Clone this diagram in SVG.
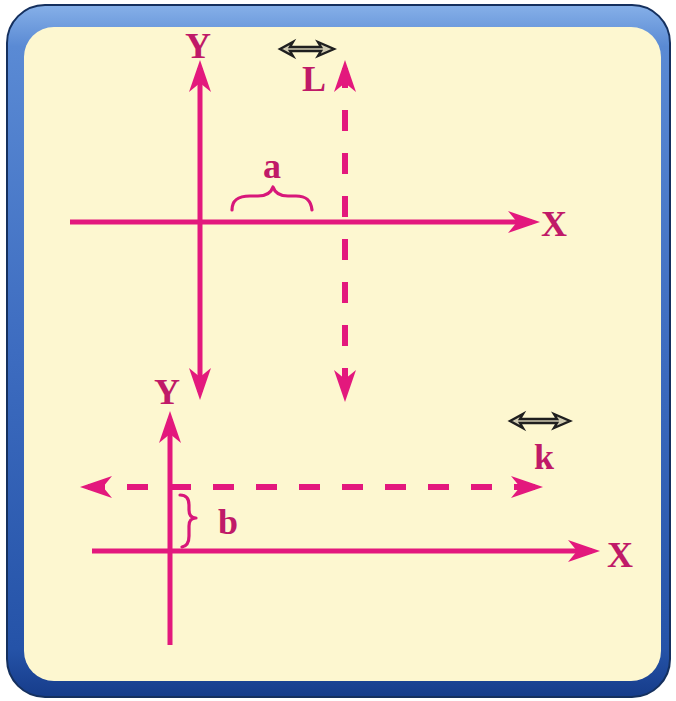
<svg xmlns="http://www.w3.org/2000/svg" width="676" height="701" viewBox="0 0 676 701">
<defs>
<linearGradient id="frameGrad" x1="0" y1="0" x2="0" y2="1">
<stop offset="0" stop-color="#86b0e8"/>
<stop offset="0.06" stop-color="#5a8ad4"/>
<stop offset="0.5" stop-color="#3d6cc0"/>
<stop offset="0.93" stop-color="#2553a8"/>
<stop offset="1" stop-color="#163c8a"/>
</linearGradient>
<marker id="ah" viewBox="0 0 32 22" refX="24" refY="11" markerWidth="32" markerHeight="22" markerUnits="userSpaceOnUse" orient="auto-start-reverse">
<path d="M0,0 L32,11 L0,22 L9,11 Z" fill="#e3187d"/>
</marker>
<style>
.ax{stroke:#e3187d;stroke-width:5;fill:none}
.dash{stroke:#e3187d;stroke-width:6;fill:none;stroke-dasharray:21 22}
.brace{stroke:#d8177a;stroke-width:3.2;fill:none;stroke-linecap:round;stroke-linejoin:round}
.lbl{font-family:"Liberation Serif","Times New Roman",serif;font-weight:bold;font-size:36px;fill:#c01a68;text-anchor:middle}
.dbl{stroke:#1f1f1f;stroke-width:2.4;fill:#cfcab0;stroke-linejoin:miter}
</style>
</defs>

<g id="frame">
<rect x="7" y="5" width="663" height="692" rx="38" ry="38" fill="url(#frameGrad)" stroke="#15305e" stroke-width="2"/>
<rect x="24" y="27" width="637" height="654" rx="30" ry="30" fill="#fdf7d0"/>
</g>

<g id="connectors">
<line id="top-y-axis" class="ax" x1="200" y1="68" x2="200" y2="392" marker-start="url(#ah)" marker-end="url(#ah)"/>
<line id="top-x-axis" class="ax" x1="70" y1="222" x2="532" y2="222" marker-end="url(#ah)"/>
<line id="top-dashed" class="dash" x1="345" y1="68" x2="345" y2="394" stroke-dashoffset="1" marker-start="url(#ah)" marker-end="url(#ah)"/>
<line id="bottom-y-axis" class="ax" x1="170" y1="645" x2="170" y2="419" marker-end="url(#ah)"/>
<line id="bottom-x-axis" class="ax" x1="92" y1="551" x2="592" y2="551" marker-end="url(#ah)"/>
<line id="bottom-dashed" class="dash" x1="88" y1="487" x2="535" y2="487" stroke-dashoffset="4" marker-start="url(#ah)" marker-end="url(#ah)"/>
</g>

<g id="top-labels">
<text class="lbl" x="198" y="58">Y</text>
<text class="lbl" x="554" y="236">X</text>
<text class="lbl" x="314" y="91">L</text>
<text class="lbl" x="272" y="178">a</text>
</g>

<g id="bottom-labels">
<text class="lbl" x="167" y="404">Y</text>
<text class="lbl" x="620" y="567">X</text>
<text class="lbl" x="544" y="469">k</text>
<text class="lbl" x="228" y="534">b</text>
</g>

<g id="brace-a">
<path class="brace" d="M232,210 C232,200 238,196 250,196 L258,196 C266,196 271,193 273,187 C275,193 280,196 288,196 L296,196 C306,196 311,200 312,210"/>
</g>
<g id="brace-b">
<path class="brace" d="M180,495 C187,495 189,499 189,505 L189,510 C189,515 191,518 196,518 C191,518 189,521 189,526 L189,536 C189,542 187,546 182,547"/>
</g>

<g id="arrow-L">
<path class="dbl" d="M280,49 L293,42 L290,47 L321,47 L318,42 L334,49 L318,56 L321,51 L290,51 L293,56 Z"/>
</g>
<g id="arrow-k">
<path class="dbl" d="M510,421 L523,414 L520,419 L557,419 L554,414 L570,421 L554,428 L557,423 L520,423 L523,428 Z"/>
</g>
</svg>
